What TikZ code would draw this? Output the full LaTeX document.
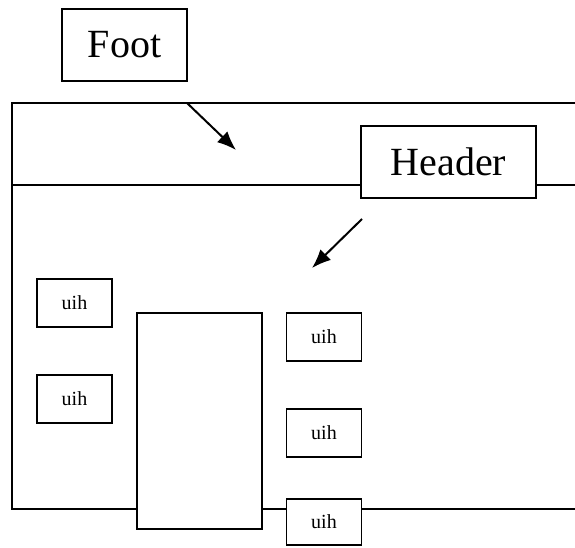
\documentclass[tikz,border=0pt]{standalone}
\usepackage{fontspec}
\setmainfont{Liberation Serif}
\usetikzlibrary{positioning,arrows.meta}
\newcommand{\uihnode}[2]{
  \node(#1)[uihbox,#2]{uih};
}

\begin{document}
\begin{tikzpicture}[
  x=1pt,y=-1pt,
  node distance=46pt,
  every path/.style={line width=1.8pt},
  every node/.style={draw,line width=1.8pt,inner sep=0pt},
  bigbox/.style={minimum width=125pt,minimum height=72pt,font=\fontsize{40}{40}\selectfont},
  uihbox/.style={minimum width=75pt,minimum height=48pt,font=\fontsize{20}{20}\selectfont},
  pointer/.style={line width=2pt,-{Latex[length=19pt,width=15pt]}},
  ]
  \useasboundingbox (0,0) rectangle (575,548);
  % labels on top
  \node(foot)[bigbox] at (124.5,45){Foot};
  \node(header)[bigbox,minimum width=175pt] at (448.5,162){Header};
  % frame
  \coordinate(tr) at (575,103);
  \coordinate(tl) at (12,103);
  \coordinate(ml) at (12,185);
  \coordinate(mr) at (575,185);
  \coordinate(bl) at (12,509);
  \coordinate(br) at (575,509);
  % boxes inside
  \node(body)[minimum width=125pt,minimum height=216pt] at (199.5,421){};
  \node(left1)[uihbox] at (74.5,303){uih};
  \uihnode{left2}{below=of left1}
  \node(right1)[uihbox] at (324,337){uih};
  \uihnode{right2}{below=of right1}
  \node(right3)[uihbox,minimum height=46pt] at (324,522){uih};
  \draw (tr) -- (tl) -- (bl) -- (body.west |- bl);
  \draw (body.east |- bl) -- (right3.west |- bl);
  \draw (right3.east |- bl) -- (br);
  \draw (ml) -- (header.west |- ml);
  \draw (header.east |- mr) -- (mr);
  % arrows
  \coordinate(a1) at (187,103);
  \coordinate(a1end) at (236,150);
  \coordinate(a2) at (362,219);
  \coordinate(a2end) at (312,268);
  \draw[pointer] (a1) -- (a1end);
  \draw[pointer] (a2) -- (a2end);
\end{tikzpicture}
\end{document}
